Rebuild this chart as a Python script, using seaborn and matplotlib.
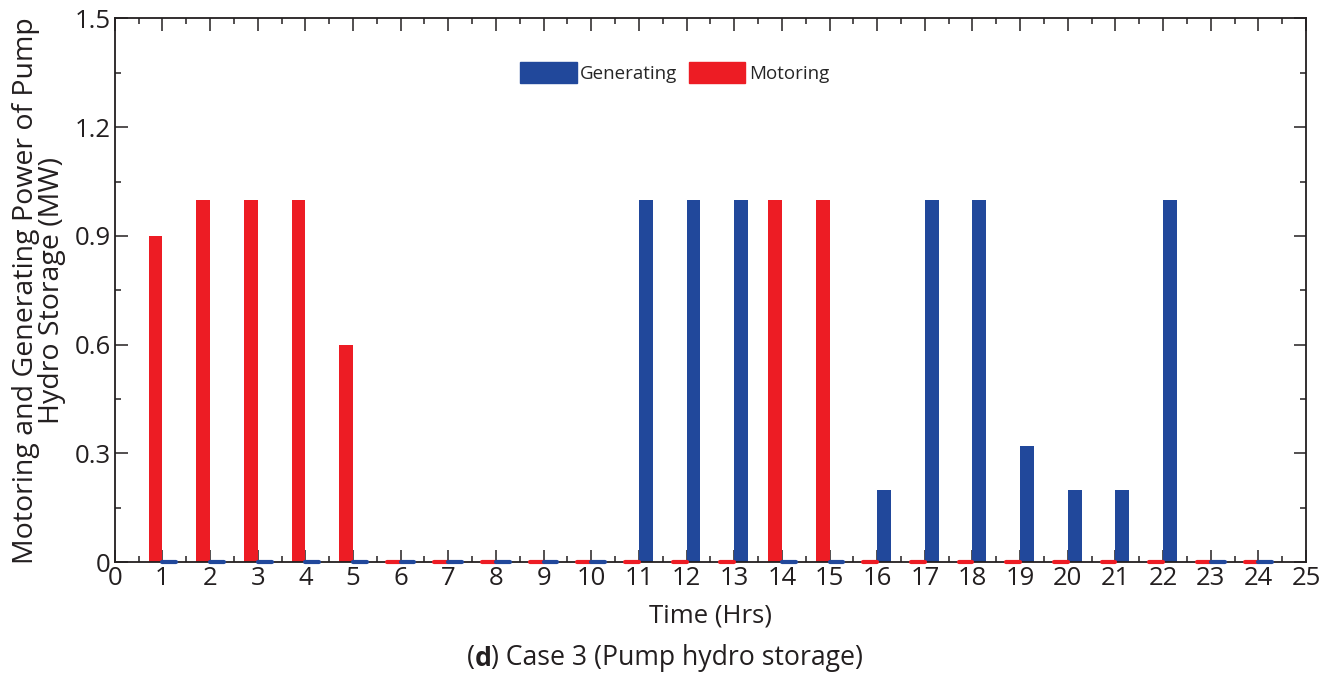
import pandas as pd
import seaborn as sns
import matplotlib.pyplot as plt
from matplotlib.ticker import MultipleLocator
from matplotlib.patches import Patch

hours = list(range(1, 25))
motoring = [0.9, 1.0, 1.0, 1.0, 0.6, 0, 0, 0, 0, 0, 0, 0, 0, 1.0, 1.0, 0, 0, 0, 0, 0, 0, 0, 0, 0]
generating = [0, 0, 0, 0, 0, 0, 0, 0, 0, 0, 1.0, 1.0, 1.0, 0, 0, 0.2, 1.0, 1.0, 0.32, 0.2, 0.2, 1.0, 0, 0]
y_ticks = [0, 0.3, 0.6, 0.9, 1.2, 1.5]
y_ticklabels = ['0', '0.3', '0.6', '0.9', '1.2', '1.5']

red = '#ED1C24'
blue = '#21489B'
ink = '#231F20'

sns.set_style('ticks')
plt.rcParams['font.family'] = ['Open Sans', 'DejaVu Sans']

df = pd.DataFrame({'hour': hours * 2,
                   'power': motoring + generating,
                   'mode': ['Motoring'] * 24 + ['Generating'] * 24})

fig = plt.figure(figsize=(13.25, 6.84), dpi=100)
ax = fig.add_axes([0.0866, 0.178, 0.8991, 0.7952])

sns.barplot(data=df, x='hour', y='power', hue='mode', hue_order=['Motoring', 'Generating'],
            palette={'Motoring': red, 'Generating': blue}, native_scale=True, saturation=1,
            width=0.58, errorbar=None, ax=ax, legend=False)

# zero values still show as a thin stub on the axis
for p in ax.patches:
    if p.get_height() == 0:
        p.set_edgecolor(p.get_facecolor())
        p.set_linewidth(3)
        p.set_capstyle('round')
        p.set_clip_on(False)
        p.set_zorder(3)
    else:
        p.set_linewidth(0)

ax.set_xlim(0, 25)
ax.set_ylim(0, 1.5)
ax.set_xticks(range(0, 26))
ax.set_xticklabels([str(i) for i in range(0, 26)])
ax.xaxis.set_minor_locator(MultipleLocator(0.5))
ax.set_yticks(y_ticks)
ax.set_yticklabels(y_ticklabels)
ax.yaxis.set_minor_locator(MultipleLocator(0.15))
ax.tick_params(which='both', direction='in', top=True, right=True, width=1.1, colors=ink)
ax.tick_params(which='major', length=9, labelsize=18.5, pad=3)
ax.tick_params(which='minor', length=4.5)
for s in ax.spines.values():
    s.set_linewidth(1.3)
    s.set_color(ink)

ax.set_xlabel('Time (Hrs)', fontsize=18.5, labelpad=9, color=ink)
ax.set_ylabel('Motoring and Generating Power of Pump\nHydro Storage (MW)', fontsize=20.5,
              linespacing=0.9, labelpad=6, color=ink)

handles = [Patch(color=blue, label='Generating'), Patch(color=red, label='Motoring')]
ax.legend(handles=handles, loc='center', bbox_to_anchor=(0.47, 0.9), ncol=2, frameon=False,
          fontsize=13.5, handlelength=3.0, handleheight=1.3, handletextpad=0.2, columnspacing=0.6)

# caption with a bold letter
t1 = fig.text(0.352, 0.018, '(', fontsize=19.2, color=ink, va='bottom')
t2 = ax.annotate('d', xy=(1, 0), xycoords=t1, fontsize=19.2, fontweight='bold', color=ink,
                 va='bottom', annotation_clip=False)
ax.annotate(') Case 3 (Pump hydro storage)', xy=(1, 0), xycoords=t2, fontsize=19.2, color=ink,
            va='bottom', annotation_clip=False)

fig.savefig('out.png', dpi=100)
